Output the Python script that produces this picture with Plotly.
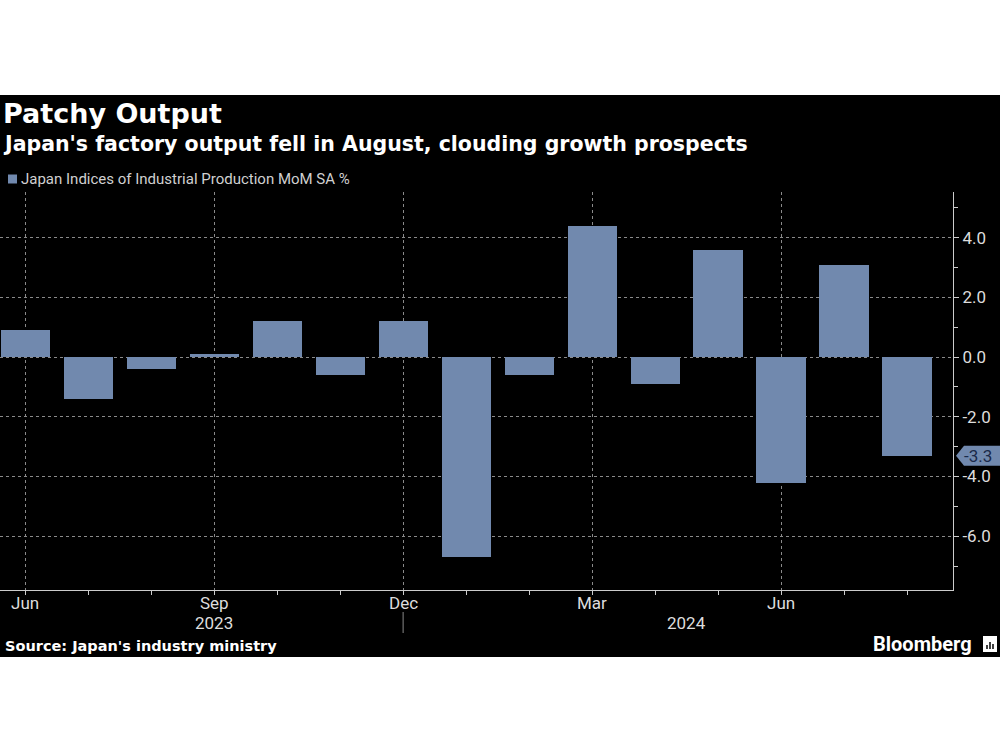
import plotly.graph_objects as go

months = ["Jun 2023", "Jul 2023", "Aug 2023", "Sep 2023", "Oct 2023", "Nov 2023", "Dec 2023",
          "Jan 2024", "Feb 2024", "Mar 2024", "Apr 2024", "May 2024", "Jun 2024", "Jul 2024", "Aug 2024"]
values = [0.9, -1.4, -0.4, 0.1, 1.2, -0.6, 1.2, -6.7, -0.6, 4.4, -0.9, 3.6, -4.2, 3.1, -3.3]
tick_idx = [0, 3, 6, 9, 12]
tick_text = ["Jun", "Sep", "Dec", "Mar", "Jun"]
year_labels = ["2023", "2024"]
year_pos = [3, 10.5]
y_ticks = [-6, -4, -2, 0, 2, 4]

BAR = "#7189ae"
W, H = 1000, 750
L, R, T, B = 0, 953, 192, 590  # plot area in px
pw, ph = R - L, B - T
YMIN, YMAX = -7.8, 5.53

def px_x(px):
    return (px - L) / pw

def px_y(py):
    return (B - py) / ph

xs = list(range(len(months)))
fig = go.Figure()
fig.add_trace(go.Bar(x=xs, y=values, width=0.78, marker=dict(color=BAR, line=dict(width=0)),
                     name="Japan Indices of Industrial Production MoM SA %", hovertext=months))

font = "Liberation Sans Narrow, Arial Narrow, Roboto, sans-serif"
bold = "DejaVu Sans, Verdana, sans-serif"

fig.update_layout(
    width=W, height=H,
    margin=dict(l=L, r=W - R, t=T, b=H - B, pad=0),
    paper_bgcolor="white", plot_bgcolor="black",
    showlegend=False,
    bargap=0,
    xaxis=dict(range=[-0.4, 14.73], tickmode="array", tickvals=tick_idx, ticktext=tick_text,
               showticklabels=False,
               showgrid=True, gridcolor="#8a8a8a", griddash="dot", gridwidth=1,
               zeroline=False, showline=True, linecolor="#cccccc", linewidth=1,
               ticks="outside", ticklen=4, tickcolor="#cccccc",
               minor=dict(tickmode="linear", tick0=0, dtick=1, ticks="outside", ticklen=4, tickcolor="#cccccc", showgrid=False),
               fixedrange=True),
    yaxis=dict(range=[YMIN, YMAX], side="right", tickmode="array", tickvals=y_ticks,
               ticktext=[f"{v:.1f}" for v in y_ticks],
               showgrid=True, gridcolor="#8a8a8a", griddash="dot", gridwidth=1,
               zeroline=False, showline=True, linecolor="#cccccc", linewidth=1,
               ticks="outside", ticklen=5, tickcolor="#cccccc",
               minor=dict(tickmode="linear", tick0=1, dtick=2, ticks="outside", ticklen=4, tickcolor="#cccccc", showgrid=False),
               tickfont=dict(family=font, size=17, color="#dddddd"), fixedrange=True),
)

shapes = []
# black band behind everything
shapes.append(dict(type="rect", xref="paper", yref="paper", x0=px_x(0), x1=px_x(1000),
                   y0=px_y(657), y1=px_y(95), fillcolor="black", line=dict(width=0), layer="below"))
# year separator
shapes.append(dict(type="line", xref="x", yref="paper", x0=6, x1=6, y0=px_y(612), y1=px_y(633),
                   line=dict(color="#888888", width=1)))
# legend square
shapes.append(dict(type="rect", xref="paper", yref="paper", x0=px_x(8), x1=px_x(17),
                   y0=px_y(183.5), y1=px_y(174.5), fillcolor=BAR, line=dict(width=0)))
# last value tag
ty = values[-1]
hu = 10 / (ph / (YMAX - YMIN))
shapes.append(dict(type="path", xref="paper", yref="y",
                   path=f"M {px_x(956)},{ty} L {px_x(964)},{ty + hu} L {px_x(1000)},{ty + hu} L {px_x(1000)},{ty - hu} L {px_x(964)},{ty - hu} Z",
                   fillcolor=BAR, line=dict(width=0)))
# bloomberg icon
shapes.append(dict(type="rect", xref="paper", yref="paper", x0=px_x(983), x1=px_x(997),
                   y0=px_y(652), y1=px_y(636), fillcolor="white", line=dict(width=0)))
for bx, btop in [(987, 645), (990, 642), (993, 644)]:
    shapes.append(dict(type="line", xref="paper", yref="paper", x0=px_x(bx), x1=px_x(bx),
                       y0=px_y(649), y1=px_y(btop), line=dict(color="black", width=1.5)))
fig.update_layout(shapes=shapes)

ann = []
ann.append(dict(text="<b>Patchy Output</b>", xref="paper", yref="paper", x=px_x(1), y=px_y(114),
                xanchor="left", yanchor="middle", showarrow=False,
                font=dict(family=bold, size=27, color="white")))
ann.append(dict(text="<b>Japan's factory output fell in August, clouding growth prospects</b>",
                xref="paper", yref="paper", x=px_x(1), y=px_y(144), xanchor="left", yanchor="middle",
                showarrow=False, font=dict(family=bold, size=20.5, color="white")))
ann.append(dict(text="Japan Indices of Industrial Production MoM SA %", xref="paper", yref="paper",
                x=px_x(19), y=px_y(179), xanchor="left", yanchor="middle", showarrow=False,
                font=dict(family=font, size=15, color="#d0d0d0")))
for lab, pos in zip(tick_text, tick_idx):
    ann.append(dict(text=lab, xref="x", yref="paper", x=pos, y=px_y(603), xanchor="center",
                    yanchor="middle", showarrow=False, font=dict(family=font, size=17, color="#dddddd")))
for lab, pos in zip(year_labels, year_pos):
    ann.append(dict(text=lab, xref="x", yref="paper", x=pos, y=px_y(623), xanchor="center",
                    yanchor="middle", showarrow=False, font=dict(family=font, size=17, color="#dddddd")))
ann.append(dict(text=f"{ty:.1f}", xref="paper", yref="y", x=px_x(962), y=ty, xanchor="left",
                yanchor="middle", showarrow=False, font=dict(family=font, size=17, color="#1a2a4a")))
ann.append(dict(text="<b>Source: Japan's industry ministry</b>", xref="paper", yref="paper",
                x=px_x(3), y=px_y(646), xanchor="left", yanchor="middle", showarrow=False,
                font=dict(family=bold, size=14.5, color="white")))
ann.append(dict(text="<b>Bloomberg</b>", xref="paper", yref="paper", x=px_x(974), y=px_y(644),
                xanchor="right", yanchor="middle", showarrow=False,
                font=dict(family=font, size=20, color="white")))
fig.update_layout(annotations=ann)

fig.write_html("out.html", config={"displayModeBar": False},
               post_script="document.body.style.margin='0';document.body.style.overflow='hidden';")
